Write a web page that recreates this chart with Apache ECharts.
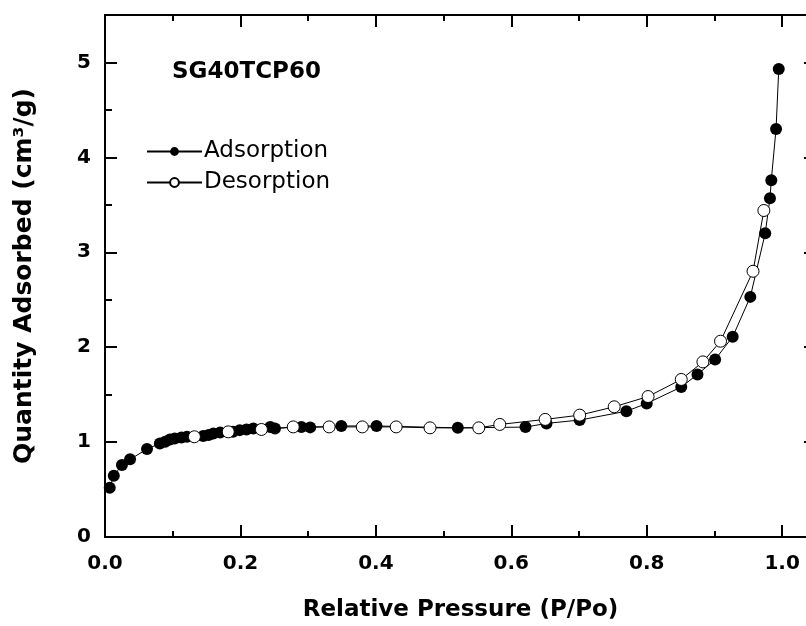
<!DOCTYPE html>
<html>
<head>
<meta charset="utf-8">
<script src="https://cdn.jsdelivr.net/npm/echarts@6/dist/echarts.min.js"></script>
<style>
  html, body { margin: 0; padding: 0; background: #fff; }
  #main { width: 806px; height: 626px; }
</style>
</head>
<body>
<div id="main"></div>
<script>
// adsorption branch (P/Po, quantity)
const adsP = [0.007, 0.013, 0.025, 0.037, 0.062, 0.081, 0.089, 0.096, 0.103, 0.113, 0.121,
  0.145, 0.153, 0.160, 0.170, 0.189, 0.199, 0.209, 0.219, 0.244, 0.251, 0.290, 0.303,
  0.349, 0.401, 0.521, 0.621, 0.652, 0.701, 0.770, 0.800, 0.851, 0.875, 0.901, 0.927,
  0.953, 0.975, 0.982, 0.984, 0.991, 0.995]
const adsQ = [0.52, 0.645, 0.758, 0.818, 0.926, 0.986, 1.003, 1.028, 1.039, 1.049, 1.056,
  1.063, 1.074, 1.09, 1.10, 1.108, 1.126, 1.133, 1.144, 1.16, 1.144, 1.16, 1.155,
  1.17, 1.17, 1.15, 1.158, 1.197, 1.232, 1.325, 1.407, 1.58, 1.713, 1.87, 2.11,
  2.53, 3.20, 3.57, 3.76, 4.30, 4.93]

// desorption branch
const desP = [0.973, 0.957, 0.909, 0.883, 0.851, 0.802, 0.752, 0.701, 0.650, 0.583, 0.552,
  0.480, 0.430, 0.380, 0.331, 0.278, 0.231, 0.182, 0.132]
const desQ = [3.44, 2.80, 2.063, 1.845, 1.66, 1.48, 1.372, 1.284, 1.239, 1.186, 1.15,
  1.15, 1.16, 1.16, 1.16, 1.16, 1.133, 1.108, 1.056]

const xTicks = ['0.0', '0.2', '0.4', '0.6', '0.8', '1.0']
const yTicks = ['0', '1', '2', '3', '4', '5']

const adsData = adsP.map((p, i) => [p, adsQ[i]])
const desData = desP.map((p, i) => [p, desQ[i]])

var myChart = echarts.init(document.getElementById('main'))

const boldFont = 'DejaVu Sans'
const black = '#000'

// helper for the tick-only axes (top/right and minor ticks)
function xAx(pos, interval, len, opts) {
  return Object.assign({
    type: 'value',
    position: pos,
    min: 0,
    max: 1.05,
    interval: interval,
    axisLine: { show: false, onZero: false },
    axisTick: { show: true, inside: true, length: len, lineStyle: { color: black, width: 2 } },
    axisLabel: { show: false },
    splitLine: { show: false },
  }, opts || {})
}
function yAx(pos, interval, len, opts) {
  return Object.assign({
    type: 'value',
    position: pos,
    min: 0,
    max: 5.5,
    interval: interval,
    axisLine: { show: false, onZero: false },
    axisTick: { show: true, inside: true, length: len, lineStyle: { color: black, width: 2 } },
    axisLabel: { show: false },
    splitLine: { show: false },
  }, opts || {})
}

var option = {
  backgroundColor: '#fff',
  animation: false,
  grid: {
    left: 105,
    right: -10,
    top: 15,
    bottom: 89,
    outerBoundsMode: 'none',
    show: true,
    borderColor: black,
    borderWidth: 2,
    backgroundColor: 'transparent',
  },
  title: {
    text: 'SG40TCP60',
    left: 167,
    top: 56,
    textStyle: { fontFamily: boldFont, fontWeight: 'bold', fontSize: 23, color: black },
  },
  legend: {
    orient: 'vertical',
    left: 141,
    top: 135,
    itemWidth: 55,
    itemHeight: 11,
    itemGap: 8,
    textStyle: { fontFamily: boldFont, fontSize: 23, color: black, lineHeight: 23, padding: [0, 0, 0, -3] },
    data: ['Adsorption', 'Desorption'],
  },
  xAxis: [
    xAx('bottom', 0.2, 12, {
      axisLine: { show: true, onZero: false, lineStyle: { color: black, width: 2 } },
      axisLabel: {
        show: true,
        margin: 17,
        showMaxLabel: false,
        fontFamily: boldFont,
        fontWeight: 'bold',
        fontSize: 20,
        color: black,
        formatter: function (v) {
          const i = Math.round(v / 0.2)
          return Math.abs(v - i * 0.2) < 1e-6 ? xTicks[i] : ''
        },
      },
      name: 'Relative Pressure (P/Po)',
      nameLocation: 'middle',
      nameGap: 62,
      nameTextStyle: { fontFamily: boldFont, fontWeight: 'bold', fontSize: 23, color: black },
    }),
    xAx('bottom', 0.1, 6),
    xAx('top', 0.2, 12),
    xAx('top', 0.1, 6),
  ],
  yAxis: [
    yAx('left', 1, 12, {
      axisLine: { show: true, onZero: false, lineStyle: { color: black, width: 2 } },
      axisLabel: {
        show: true,
        margin: 14,
        showMaxLabel: false,
        fontFamily: boldFont,
        fontWeight: 'bold',
        fontSize: 20,
        color: black,
        formatter: function (v) {
          const i = Math.round(v)
          return Math.abs(v - i) < 1e-6 ? yTicks[i] : ''
        },
      },
      name: 'Quantity Adsorbed (cm³/g)',
      nameLocation: 'middle',
      nameGap: 68,
      nameTextStyle: { fontFamily: boldFont, fontWeight: 'bold', fontSize: 25, color: black },
    }),
    yAx('left', 0.5, 7),
    yAx('right', 1, 12),
    yAx('right', 0.5, 7),
  ],
  series: [
    {
      name: 'Adsorption',
      type: 'line',
      data: adsData,
      symbol: 'circle',
      symbolSize: 12,
      showAllSymbol: true,
      itemStyle: { color: black },
      lineStyle: { color: black, width: 1 },
      z: 3,
    },
    {
      name: 'Desorption',
      type: 'line',
      data: desData,
      symbol: 'circle',
      symbolSize: 12,
      showAllSymbol: true,
      itemStyle: { color: '#fff', borderColor: black, borderWidth: 1 },
      lineStyle: { color: black, width: 1 },
      z: 4,
    },
  ],
}

option && myChart.setOption(option)
window.addEventListener('resize', function () {
  myChart.resize()
})
</script>
</body>
</html>
